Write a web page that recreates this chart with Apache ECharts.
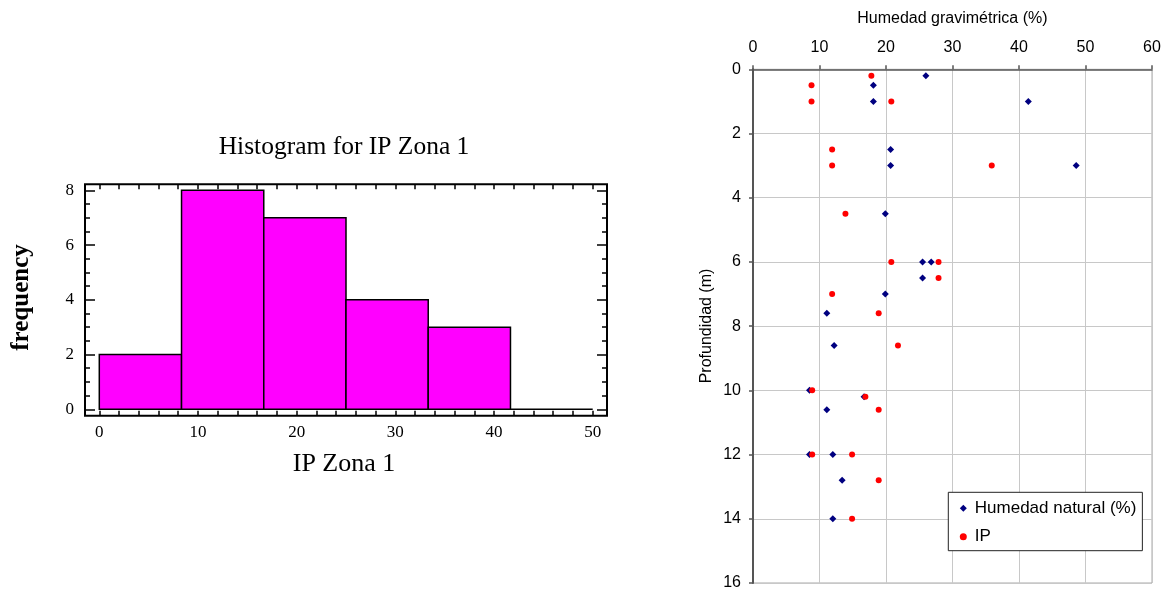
<!DOCTYPE html>
<html><head><meta charset="utf-8">
<script src="https://cdn.jsdelivr.net/npm/echarts@6/dist/echarts.min.js"></script>
<style>html,body{margin:0;padding:0;background:#fff}#c{width:1164px;height:591px}</style>
</head><body><div id="c"></div>
<script>
// Histogram data
const binLower = [0, 8.333, 16.667, 25, 33.333, 41.667];
const binUpper = [8.333, 16.667, 25, 33.333, 41.667, 50];
const frequency = [2, 8, 7, 4, 3, 0];

// Scatter data: Humedad natural (%)
const humedadNatural = [26, 18.1, 18.1, 41.4, 20.7, 20.7, 48.6, 19.9, 25.5, 26.8, 25.5, 19.9, 11.1, 12.2, 8.5, 16.7, 11.1, 8.5, 12.0, 13.4, 12.0];
const depthHumedad   = [0.2, 0.5, 1.0, 1.0, 2.5, 3.0, 3.0, 4.5, 6.0, 6.0, 6.5, 7.0, 7.6, 8.6, 10.0, 10.2, 10.6, 12.0, 12.0, 12.8, 14.0];
// Scatter data: IP
const ipValues = [17.8, 8.8, 8.8, 20.8, 11.9, 11.9, 35.9, 13.9, 20.8, 27.9, 27.9, 11.9, 18.9, 21.8, 8.9, 16.9, 18.9, 8.9, 14.9, 18.9, 14.9];
const depthIP  = [0.2, 0.5, 1.0, 1.0, 2.5, 3.0, 3.0, 4.5, 6.0, 6.0, 6.5, 7.0, 7.6, 8.6, 10.0, 10.2, 10.6, 12.0, 12.0, 12.8, 14.0];

const xTicksHist = [0, 10, 20, 30, 40, 50];
const yTicksHist = [0, 2, 4, 6, 8];
const xTicksScatter = [0, 10, 20, 30, 40, 50, 60];
const yTicksScatter = [0, 2, 4, 6, 8, 10, 12, 14, 16];

const serif = '"Liberation Serif", "Times New Roman", serif';
const sans = 'Arial, "Liberation Sans", sans-serif';

const chart = echarts.init(document.getElementById('c'), null, {renderer: 'canvas'});

const histTickAxis = (extra) => Object.assign({
  gridIndex: 1, type: 'value',
  axisLine: {show: false, onZero: false},
  splitLine: {show: false},
  axisTick: {show: true, inside: true, length: 5, lineStyle: {color: '#000', width: 1.5}},
  minorTick: {show: true, splitNumber: 5, length: 5, lineStyle: {color: '#000', width: 1.5}},
  axisLabel: {show: false}
}, extra);

const option = {
  animation: false,
  backgroundColor: '#fff',
  grid: [
    {left: 85, top: 184.3, width: 522, height: 231.4, show: true, borderColor: '#000', borderWidth: 2, backgroundColor: 'transparent'},
    {left: 99.3, top: 190.3, width: 493.4, height: 219, show: false},
    {left: 753, top: 69.3, width: 399, height: 514.7, show: true, borderColor: '#a8a8a8', borderWidth: 1, backgroundColor: 'transparent'}
  ],
  xAxis: [
    {gridIndex: 0, type: 'value', show: false, min: 0, max: 1},
    histTickAxis({min: xTicksHist[0], max: xTicksHist[xTicksHist.length - 1], interval: 10, position: 'bottom', offset: 6.4,
      axisLabel: {show: true, margin: 8, fontFamily: serif, fontSize: 17, color: '#000',
        formatter: v => xTicksHist.includes(v) ? String(v) : ''}}),
    histTickAxis({min: 0, max: 50, interval: 10, position: 'top', offset: 6}),
    {gridIndex: 2, type: 'value', position: 'top', min: xTicksScatter[0], max: xTicksScatter[xTicksScatter.length - 1], interval: 10,
      axisLine: {show: true, onZero: false, lineStyle: {color: '#555', width: 1.5}},
      axisTick: {show: true, inside: false, length: 4, lineStyle: {color: '#555', width: 1.5}},
      splitLine: {show: true, lineStyle: {color: '#c8c8c8', width: 1}},
      axisLabel: {margin: 14, fontFamily: sans, fontSize: 16, color: '#000',
        formatter: v => xTicksScatter.includes(v) ? String(v) : ''}}
  ],
  yAxis: [
    {gridIndex: 0, type: 'value', show: false, min: 0, max: 1},
    histTickAxis({min: yTicksHist[0], max: yTicksHist[yTicksHist.length - 1], interval: 2, position: 'left', offset: 14.3,
      axisTick: {show: true, inside: true, length: 10, lineStyle: {color: '#000', width: 1.5}},
      minorTick: {show: true, splitNumber: 4, length: 5, lineStyle: {color: '#000', width: 1.5}},
      axisLabel: {show: true, margin: 11, fontFamily: serif, fontSize: 17, color: '#000',
        formatter: v => yTicksHist.includes(v) ? String(v) : ''}}),
    histTickAxis({min: 0, max: 8, interval: 2, position: 'right', offset: 14.3,
      axisTick: {show: true, inside: true, length: 10, lineStyle: {color: '#000', width: 1.5}},
      minorTick: {show: true, splitNumber: 4, length: 5, lineStyle: {color: '#000', width: 1.5}}}),
    {gridIndex: 2, type: 'value', position: 'left', inverse: true, min: yTicksScatter[0], max: yTicksScatter[yTicksScatter.length - 1], interval: 2,
      axisLine: {show: true, onZero: false, lineStyle: {color: '#555', width: 2}},
      axisTick: {show: true, inside: false, length: 4, lineStyle: {color: '#555', width: 1.5}},
      splitLine: {show: true, lineStyle: {color: '#c8c8c8', width: 1}},
      axisLabel: {margin: 12, fontFamily: sans, fontSize: 16, color: '#000',
        formatter: v => yTicksScatter.includes(v) ? String(v) : ''}}
  ],
  legend: {
    show: true, orient: 'vertical', left: 948.3, top: 492.3,
    data: ['Humedad natural (%)', 'IP'],
    backgroundColor: '#fff', borderColor: '#222', borderWidth: 1,
    padding: [6, 6, 4, 11.5], itemGap: 8.4, itemWidth: 7, itemHeight: 7,
    textStyle: {fontFamily: sans, fontSize: 17, color: '#000', lineHeight: 20, padding: [0, 0, 0, 3]},
    selectedMode: false
  },
  series: [
    {
      type: 'custom', xAxisIndex: 1, yAxisIndex: 1, clip: false,
      data: binLower.map((lo, i) => [lo, binUpper[i], frequency[i]]),
      encode: {x: [0, 1], y: 2},
      renderItem: function (params, api) {
        const p0 = api.coord([api.value(0), api.value(2)]);
        const p1 = api.coord([api.value(1), 0]);
        return {type: 'rect', shape: {x: p0[0], y: p0[1], width: p1[0] - p0[0], height: p1[1] - p0[1]},
          style: {fill: '#ff00ff', stroke: '#000', lineWidth: 1.5}};
      }
    },
    {
      name: 'Humedad natural (%)', type: 'scatter', xAxisIndex: 3, yAxisIndex: 3,
      symbol: 'diamond', symbolSize: 7, itemStyle: {color: '#000080', opacity: 1},
      data: humedadNatural.map((v, i) => [v, depthHumedad[i]])
    },
    {
      name: 'IP', type: 'scatter', xAxisIndex: 3, yAxisIndex: 3,
      symbol: 'circle', symbolSize: 6, itemStyle: {color: '#ff0000', opacity: 1},
      data: ipValues.map((v, i) => [v, depthIP[i]])
    }
  ],
  graphic: [
    {type: 'text', x: 344, y: 147, style: {text: 'Histogram for IP Zona 1', font: '25.5px ' + serif, fill: '#000', align: 'center', verticalAlign: 'middle'}},
    {type: 'text', x: 344, y: 464, style: {text: 'IP Zona 1', font: '26px ' + serif, fill: '#000', align: 'center', verticalAlign: 'middle'}},
    {type: 'text', x: 21.5, y: 297.5, rotation: Math.PI / 2, style: {text: 'frequency', font: 'bold 25px ' + serif, fill: '#000', align: 'center', verticalAlign: 'middle'}},
    {type: 'text', x: 952.4, y: 19, style: {text: 'Humedad gravimétrica (%)', font: '16px ' + sans, fill: '#000', align: 'center', verticalAlign: 'middle'}},
    {type: 'text', x: 706.7, y: 326, rotation: Math.PI / 2, style: {text: 'Profundidad (m)', font: '16px ' + sans, fill: '#000', align: 'center', verticalAlign: 'middle'}}
  ]
};
chart.setOption(option);
</script>
</body></html>
